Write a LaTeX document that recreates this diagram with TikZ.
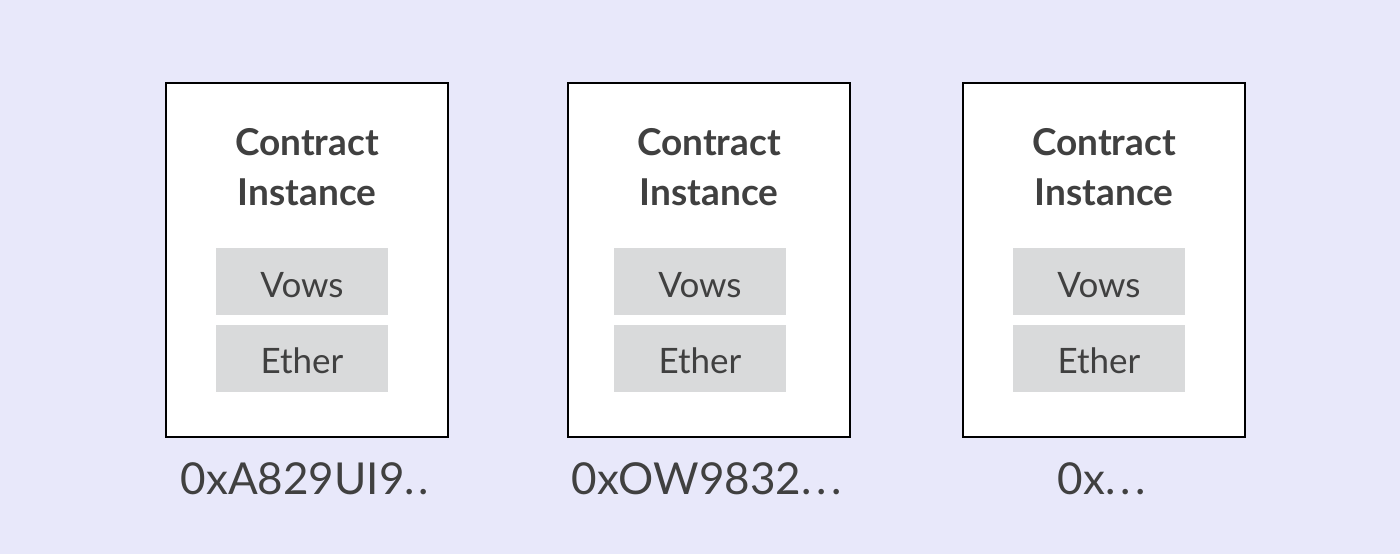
\documentclass[tikz,border=0pt]{standalone}
\usepackage{fontspec}
\setmainfont{Lato}
\definecolor{bgc}{HTML}{E8E8FA}
\definecolor{cellc}{HTML}{D9DADB}
\definecolor{txtc}{HTML}{404040}
\newcommand{\mydots}{.\kern5pt.\kern5pt.}
\begin{document}
\begin{tikzpicture}[x=1pt,y=-1pt,
  outerbox/.style={draw=black,line width=1.6pt,fill=white},
  cellbox/.style={fill=cellc},
  titletxt/.style={anchor=base,text=txtc,font=\fontsize{37}{44}\selectfont\bfseries,inner sep=0pt},
  celltxt/.style={anchor=base,text=txtc,font=\fontsize{35}{40}\selectfont,inner sep=0pt},
  addrtxt/.style={anchor=base,text=txtc,font=\fontsize{44}{52}\selectfont,inner sep=0pt}]
\fill[bgc] (0,0) rectangle (1400,554);
\useasboundingbox (0,0) rectangle (1400,554);
\foreach \n/\xl/\xo/\lab in {a/166/50/{0xA829UI9.\kern4pt.},b/568/46/{0xOW9832\mydots},c/963/50/{0x\mydots}}{
  \draw[outerbox] (\xl,83) rectangle ++(282,354);
  \fill[cellbox] (\xl+\xo,248) rectangle ++(172,67);
  \fill[cellbox] (\xl+\xo,325) rectangle ++(172,67);
  \node[titletxt] (t1\n) at (\xl+141,155) {Contract};
  \node[titletxt] (t2\n) at (\xl+141,205) {Instance};
  \node[celltxt] (v\n) at (\xl+\xo+86,297) {Vows};
  \node[celltxt] (e\n) at (\xl+\xo+86,373) {Ether};
  \node[addrtxt] (l\n) at (\xl+139,494) {\lab};
}
\end{tikzpicture}
\end{document}
